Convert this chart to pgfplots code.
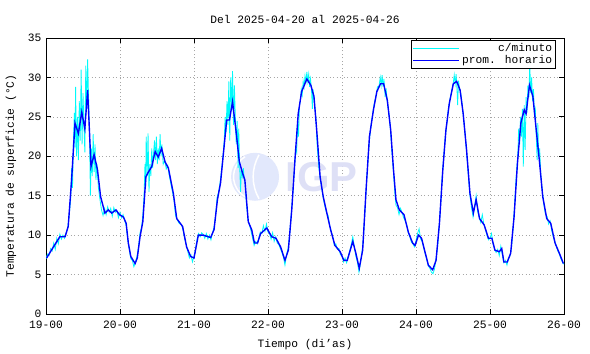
\documentclass[border=0pt]{standalone}
\usepackage{pgfplots}
\pgfplotsset{compat=1.18}
\usepackage{fontspec}
\setmainfont{Liberation Mono}
\definecolor{cyanm}{RGB}{0,250,250}
\definecolor{blueh}{RGB}{0,0,255}
\definecolor{wm}{RGB}{222,224,246}
\definecolor{wm2}{RGB}{226,232,252}
\begin{document}
\begin{tikzpicture}
\begin{axis}[
  at={(0,0)}, anchor=south west,
  scale only axis, width=518bp, height=276bp,
  xmin=0, xmax=168, ymin=0, ymax=35,
  xtick={0,24,48,72,96,120,144,168},
  xticklabels={19-00,20-00,21-00,22-00,23-00,24-00,25-00,26-00},
  ytick={0,5,10,15,20,25,30,35},
  /pgf/number format/assume math mode=true,
  tick label style={font=\fontsize{11.3}{12}\selectfont},
  xticklabel style={yshift=-3bp},
  yticklabel style={xshift=-1bp},
  label style={font=\fontsize{11.3}{12}\selectfont},
  title style={font=\fontsize{11.3}{12}\selectfont, yshift=5bp},
  title={Del 2025-04-20 al 2025-04-26},
  xlabel={Tiempo (di'as)},
  ylabel={Temperatura de superficie (°C)},
  xlabel style={yshift=-4bp},
  ylabel style={yshift=5bp},
  grid=major,
  grid style={gray!70, dash pattern=on 1bp off 2.5bp, line width=0.5bp},
  major tick length=5bp,
  tick style={black, line width=0.8bp},
  axis line style={black, line width=0.8bp},
  legend style={at={(1,1)}, anchor=north east, xshift=-8bp, yshift=-2bp,
    draw=black, line width=0.6bp, fill=white,
    font=\fontsize{11.3}{12}\selectfont, inner sep=1.5bp, row sep=-2bp,
    /tikz/every even column/.append style={column sep=0bp}},
  legend cell align=right,
  legend image code/.code={\draw[#1] (0bp,0bp) -- (46bp,0bp);},
]
% watermark
\fill[wm2] (axis cs:67.8,17.4) circle[radius=24bp];
\draw[white, line width=1.5bp] (axis cs:67.8,17.4) ++(-10bp,20bp) arc[start angle=120, end angle=240, radius=23bp];
\draw[white, line width=1.5bp] (axis cs:67.8,17.4) ++(4bp,22bp) arc[start angle=150, end angle=210, radius=44bp];
\node[text=wm, font=\fontspec{Liberation Sans}\bfseries\fontsize{42}{42}\selectfont] at (axis cs:89.4,17.4) {IGP};

\addplot[cyanm, line width=0.8bp] coordinates {
(0,7.0)(0.5,7.6)(1,7.4)(1.5,8.3)(2,8.0)(2.5,9.0)(3,8.2)(3.5,9.6)(4,8.9)(4.5,10.1)(5,9.5)(5.5,10.0)(6,9.6)(6.5,10.3)(7,10.8)(7.5,12.5)(8,14.5)(8.3,18.5)(8.6,16)(8.9,22)(9.2,25.5)(9.4,21)(9.6,28.8)(9.9,20)(10.2,25)(10.5,19.5)(10.8,27)(11.1,22)(11.4,31)(11.7,21.5)(12,28)(12.3,24)(12.6,20.5)(12.9,31.5)(13.2,26)(13.5,32.3)(13.8,27.5)(14.1,23)(14.4,15)(14.7,21)(15,17.5)(15.3,22.8)(15.6,18)(15.9,21.5)(16.2,17)(16.5,19)(17,16)(17.5,14.5)(18,13.2)(18.5,12.5)(19,13.4)(19.5,12.6)(20,13.6)(20.5,12.9)(21,13.4)(21.5,12.4)(22,13.5)(22.5,12.9)(23,13.1)(23.5,12.2)(24,12.9)(24.5,12.2)(25,12.6)(25.5,11.9)(26,11.2)(26.5,9.5)(27,8.2)(27.5,7.0)(28,6.8)(28.5,6.0)(29,6.6)(29.5,7.3)(30,8.5)(30.5,10.3)(31,11)(31.4,12.5)
(31.8,15)(32.1,19)(32.3,16)(32.5,22.5)(32.8,17.5)(33.1,22.9)(33.4,15.5)(33.7,19)(34,17.5)(34.3,21)(34.6,18.5)(34.9,20.5)(35.2,22)(35.5,19.5)(35.8,22.5)(36.1,19)(36.4,21)(36.7,19.5)(37,22.8)(37.3,20)(37.6,21.5)(38,19)(38.5,19.5)(39,18.4)(39.5,18.8)(40,17.5)(40.5,16.5)(41,15.5)(41.5,14.5)(42,12.5)(42.5,12.0)(43,11.6)(43.5,11.4)(44,11.3)(44.5,10.6)(45,9.5)(45.5,8.8)(46,7.9)(46.5,7.1)(47,7.5)(47.5,6.6)(48,7.3)(48.5,8.2)(49,9.5)(49.5,10.2)(50,9.8)(50.5,10.3)(51,10.1)(51.5,9.6)(52,10.2)(52.5,9.5)(53,10.0)(53.5,9.4)(54,10.3)(54.5,11.0)
(55,12.5)(55.5,14.8)(56,15.5)(56.5,16.8)(57,18.5)(57.5,20.5)(57.8,22)(58.1,25)(58.4,23)(58.7,27)(59,24)(59.3,29.5)(59.6,22)(59.9,30)(60.2,26)(60.5,30.8)(60.8,24)(61.1,29)(61.4,25)(61.7,21.5)(62,24.5)(62.3,18.5)(62.5,23.5)(62.8,19)(63.1,15.5)(63.4,18.5)(63.7,17.5)(64,18.5)(64.3,17)(64.6,16.5)(65,14)(65.5,12)(66,11.3)(66.5,10.5)(67,9.6)(67.5,8.7)(68,9.2)(68.5,8.9)(69,9.6)(69.5,10.4)(70,10.2)(70.5,11.2)(71,10.5)(71.5,11.4)(72,10.4)(72.5,10.2)(73,9.5)(73.5,10.3)(74,9.2)(74.5,9.8)(75,9.0)(75.5,8.8)(76,8.3)(76.5,7.8)(77,7.2)(77.5,6.2)(78,7.5)(78.5,8.3)(79,10)(79.5,12.5)
(80,15)(80.5,18)(81,21)(81.3,20.5)(81.6,24.5)(81.9,22.5)(82.2,26.5)(82.5,27)(82.8,28.5)(83.1,27.8)(83.4,29.5)(83.7,28.8)(84,30.2)(84.3,29.4)(84.6,30.7)(84.9,29.5)(85.2,30.4)(85.5,28.8)(85.8,29.8)(86.1,28.5)(86.4,26)(86.6,28.5)(87,27)(87.5,25)(88,21)(88.5,18.5)(89,17)(89.5,15.8)(90,14.5)(90.5,13.6)(91,12.8)(91.5,12.5)(92,11.2)(92.5,10.5)(93,9.8)(93.5,8.7)(94,8.9)(94.5,8.2)(95,8.3)(95.5,7.5)(96,7.4)(96.5,6.6)(97,7.1)(97.5,6.5)(98,7.3)(98.5,8.0)(99,8.8)(99.5,9.8)(100,8.5)(100.5,7.3)(101,6.6)(101.5,5.3)(102,6.5)(102.5,7.9)(103,10)(103.5,13.5)
(104,17)(104.5,20)(105,22.5)(105.5,24.2)(106,25.5)(106.5,26.8)(107,27.6)(107.5,28.8)(108,28.9)(108.4,30)(108.7,29)(109,30.3)(109.3,28.8)(109.6,29.8)(110,27.5)(110.3,28.6)(110.7,26.8)(111.2,25.5)(111.7,23.5)(112.2,20.5)(112.7,18)(113.2,15)(113.5,13.8)(114,13.5)(114.5,12.6)(115,13.4)(115.5,12.8)(116,12.2)(116.5,11.8)(117,11.3)(117.5,10.3)(118,9.8)(118.5,9.1)(119,8.9)(119.5,8.5)(120,9.3)(120.5,10.2)(121,10.8)(121.5,9.5)(122,9.2)(122.5,8.4)(123,7.6)(123.5,6.9)(124,6.1)(124.5,5.8)(125,5.3)(125.5,5.1)(126,5.7)(126.5,7.0)(127,8.5)(127.5,11)
(128,14)(128.5,17.5)(129,20)(129.5,22.5)(130,24.2)(130.5,26)(131,27.2)(131.5,28.2)(132,29)(132.4,30.3)(132.7,29.2)(133,30.4)(133.3,28.5)(133.5,26.5)(133.8,29.6)(134.1,28.6)(134.5,28)(135,26.5)(135.5,24.5)(136,22.5)(136.5,20)(137,17.5)(137.5,15)(138,13.5)(138.5,12.3)(139,13.6)(139.5,15)(140,13)(140.5,12.3)(141,11.6)(141.5,12.6)(142,11.4)(142.5,10.8)(143,10)(143.5,9.4)(144,9.6)(144.5,10.2)(145,8.9)(145.5,8.2)(146,7.8)(146.5,8.2)(147,7.4)(147.5,8.6)(148,7.5)(148.5,6.5)(149,6.8)(149.5,6.2)(150,7.1)(150.5,7.4)(151,8.5)(151.5,11)
(152,14)(152.5,17.5)(153,20)(153.3,23.5)(153.6,21.5)(153.9,25)(154.2,22.5)(154.5,26)(154.8,18.7)(155.1,26.5)(155.4,20.8)(155.7,27.5)(156,25.5)(156.3,29)(156.6,27.5)(156.9,31.7)(157.2,28)(157.5,30)(157.8,27)(158.1,28.5)(158.4,25.5)(158.7,26)(159,22.5)(159.3,19.5)(159.5,24.2)(159.8,20)(160.1,21)(160.5,17.5)(161,15.5)(161.5,13.8)(162,12.6)(162.5,12.4)(163,11.4)(163.5,11.8)(164,10.6)(164.5,9.8)(165,9.2)(165.5,8.6)(166,8.0)(166.5,7.6)(167,7.0)(167.5,6.6)(168,6.3)
};
\addlegendentry{c/minuto}

\addplot[blueh, line width=1.4bp] coordinates {
(0.2,7.1)(2.4,8.5)(4.5,9.8)(6.2,9.8)(7.2,11.1)(8.3,17.0)(9.4,24.2)(10.5,22.9)(11.6,25.6)(12.6,23.5)(13.5,28.4)(14.6,18.7)(15.6,20.2)(16.7,18.3)(17.7,14.9)(19.1,12.8)(20.2,13.2)(21.3,12.8)(22.7,13.2)(23.8,12.6)(25.1,12.3)(26,11.5)(26.7,9.0)(27.5,7.3)(28.9,6.4)(29.6,7.1)(30.5,9.8)(31.4,11.7)(32.4,17.4)(33.2,18.0)(34.3,18.7)(35.4,20.6)(36.4,19.9)(37.5,21.0)(38.6,19.3)(39.7,18.5)(41.3,15.3)(42.4,12.1)(44.3,11.1)(45.6,8.5)(46.9,7.3)(48,7.1)(49.4,10.0)(51,10.0)(53.4,9.7)(54.5,10.7)(55.6,14.5)(56.6,16.6)(57.5,20.2)(58.6,24.6)(59.5,24.6)(60.5,26.9)(61.6,23.3)(62.7,19.3)(63.8,17.8)(64.5,17.0)(65.6,11.7)(66.7,10.7)(67.6,9.0)(68.6,9.0)(69.6,10.2)(71.6,10.9)(73.2,9.8)(74.6,9.6)(76.1,8.5)(77.5,6.8)(78.6,8.1)(79.7,13.2)(80.8,19.9)(81.8,25.4)(82.9,28.2)(84.6,29.8)(85.9,29.0)(86.9,27.6)(87.8,23.3)(88.9,17.4)(89.9,14.9)(91.2,12.6)(92.3,10.7)(93.7,8.7)(95.4,7.9)(96.6,6.8)(97.7,6.8)(99.5,9.2)(100.5,7.7)(101.6,5.8)(102.7,8.1)(103.8,15.7)(104.9,22.5)(106.2,25.9)(107.3,28.2)(108.5,29.2)(109.5,29.2)(110.7,27.1)(111.8,23.3)(112.7,18.3)(113.5,14.5)(114.6,13.2)(116.1,12.6)(117.5,10.4)(118.9,9.0)(119.7,8.7)(120.8,10.0)(121.8,9.6)(122.9,7.9)(124,6.2)(125.4,5.6)(126.5,6.8)(127.6,11.5)(128.7,18.3)(129.7,23.3)(130.8,26.7)(132.1,29.2)(133.2,29.5)(134.3,28.4)(135.3,25.4)(136.4,20.8)(137.5,15.3)(138.6,12.8)(139.5,14.5)(140.6,12.1)(142.1,11.3)(143.5,9.6)(144.6,9.6)(145.6,8.1)(147,7.9)(147.8,8.3)(148.5,6.6)(149.6,6.6)(150.7,7.7)(151.8,12.3)(152.9,19.1)(154,24.2)(155.1,25.9)(155.7,25.4)(156.8,29.0)(157.9,27.6)(159,23.3)(160,19.5)(161.1,14.9)(162.4,12.1)(163.7,11.5)(165.1,9.0)(166.7,7.5)(167.8,6.4)
};
\addlegendentry{prom. horario}
\end{axis}
\pgfresetboundingbox
\path (-46bp,-40bp) rectangle (544bp,314bp);
\end{tikzpicture}
\end{document}
